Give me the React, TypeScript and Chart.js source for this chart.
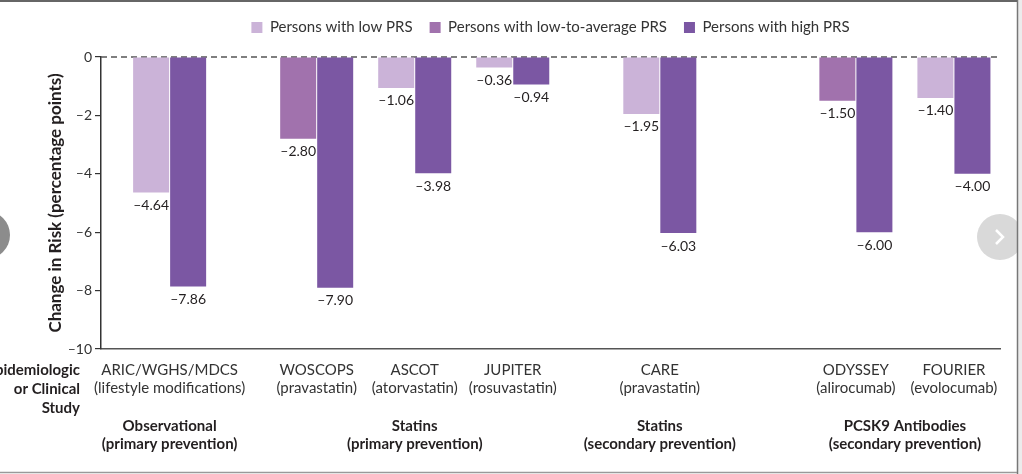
import React, { useEffect, useRef } from 'react';
import { Chart, registerables } from 'chart.js';

Chart.register(...registerables);

const studies = ['ARIC/WGHS/MDCS', 'WOSCOPS', 'ASCOT', 'JUPITER', 'CARE', 'ODYSSEY', 'FOURIER'];
const interventions = [
  '(lifestyle modifications)',
  '(pravastatin)',
  '(atorvastatin)',
  '(rosuvastatin)',
  '(pravastatin)',
  '(alirocumab)',
  '(evolocumab)',
];
const studyPositions = [0, 1.5, 2.5, 3.5, 5, 7, 8];
const lowPRS: (number | null)[] = [-4.64, null, -1.06, -0.36, -1.95, null, -1.4];
const lowToAveragePRS: (number | null)[] = [null, -2.8, null, null, null, -1.5, null];
const highPRS: (number | null)[] = [-7.86, -7.9, -3.98, -0.94, -6.03, -6.0, -4.0];
const groupLabels = [
  ['Observational', '(primary prevention)'],
  ['Statins', '(primary prevention)'],
  ['Statins', '(secondary prevention)'],
  ['PCSK9 Antibodies', '(secondary prevention)'],
];
const groupPositions = [0, 2.5, 5, 7.5];
const sideTitle = ['Epidemiologic', 'or Clinical', 'Study'];

const FONT = 'Lato';
const dash = (v: number) => (v === 0 ? '0' : '\u2013' + Math.abs(v).toString());
const fmt = (v: number) => (v < 0 ? '\u2013' : '') + Math.abs(v).toFixed(2);

export default function App() {
  const ref = useRef<HTMLCanvasElement>(null);

  useEffect(() => {
    if (!ref.current) return;
    Chart.defaults.font.family = FONT;
    const mk = (arr: (number | null)[]) => studyPositions.map((x, i) => ({ x, y: arr[i] }));

    const zeroLine = {
      id: 'zeroLine',
      beforeDatasetsDraw(chart: any) {
        const { ctx, chartArea, scales } = chart;
        const y = scales.y.getPixelForValue(0);
        ctx.save();
        ctx.strokeStyle = '#555';
        ctx.lineWidth = 1.5;
        ctx.setLineDash([6, 4]);
        ctx.beginPath();
        ctx.moveTo(chartArea.left, y);
        ctx.lineTo(chartArea.right, y);
        ctx.stroke();
        ctx.restore();
      },
    };

    const valueLabels = {
      id: 'valueLabels',
      afterDatasetsDraw(chart: any) {
        const { ctx } = chart;
        ctx.save();
        ctx.font = `14px ${FONT}`;
        ctx.fillStyle = '#231f20';
        ctx.textAlign = 'center';
        ctx.textBaseline = 'top';
        chart.data.datasets.forEach((ds: any, di: number) => {
          const meta = chart.getDatasetMeta(di);
          meta.data.forEach((el: any, i: number) => {
            const v = ds.data[i].y;
            if (v === null || v === undefined) return;
            ctx.fillText(fmt(v), el.x, el.y + 6);
          });
        });
        ctx.restore();
      },
    };

    const decor = {
      id: 'decor',
      afterDraw(chart: any) {
        const { ctx } = chart;
        ctx.save();
        ctx.fillStyle = '#8c8c8c';
        ctx.beginPath();
        ctx.arc(-14, 235, 24, 0, Math.PI * 2);
        ctx.fill();
        ctx.fillStyle = '#d9d9d9';
        ctx.beginPath();
        ctx.arc(1000, 237, 23, 0, Math.PI * 2);
        ctx.fill();
        ctx.strokeStyle = '#ffffff';
        ctx.lineWidth = 2.5;
        ctx.beginPath();
        ctx.moveTo(996, 230);
        ctx.lineTo(1003, 237);
        ctx.lineTo(996, 244);
        ctx.stroke();
        ctx.fillStyle = '#ececec';
        ctx.fillRect(1018, 0, 4, 474);
        ctx.strokeStyle = '#777';
        ctx.lineWidth = 1.5;
        ctx.beginPath();
        ctx.moveTo(1017.5, 0);
        ctx.lineTo(1017.5, 474);
        ctx.stroke();
        ctx.strokeStyle = '#666';
        ctx.lineWidth = 2;
        ctx.beginPath();
        ctx.moveTo(0, 1);
        ctx.lineTo(1017, 1);
        ctx.stroke();
        ctx.strokeStyle = '#999';
        ctx.lineWidth = 1.5;
        ctx.beginPath();
        ctx.moveTo(0, 472.5);
        ctx.lineTo(1017, 472.5);
        ctx.stroke();
        ctx.font = `bold 15px ${FONT}`;
        ctx.fillStyle = '#231f20';
        ctx.textAlign = 'right';
        ctx.textBaseline = 'middle';
        sideTitle.forEach((t, i) => ctx.fillText(t, 80, 370 + i * 19));
        ctx.restore();
      },
    };

    const chart = new Chart(ref.current, {
      type: 'bar',
      data: {
        datasets: [
          { label: 'Persons with low PRS', data: mk(lowPRS) as any, backgroundColor: '#CBB3D8', borderWidth: 0, skipNull: true } as any,
          { label: 'Persons with low-to-average PRS', data: mk(lowToAveragePRS) as any, backgroundColor: '#A172AD', borderWidth: 0, skipNull: true } as any,
          { label: 'Persons with high PRS', data: mk(highPRS) as any, backgroundColor: '#7B57A3', borderWidth: 0, skipNull: true } as any,
        ],
      },
      options: {
        animation: false,
        responsive: true,
        maintainAspectRatio: false,
        categoryPercentage: 0.755,
        barPercentage: 0.973,
        layout: { padding: { top: 3, right: 22, bottom: 21, left: 0 } },
        plugins: {
          legend: {
            position: 'top',
            fullSize: false,
            labels: {
              boxWidth: 11,
              boxHeight: 11,
              padding: 17,
              color: '#333',
              font: { family: FONT, size: 15 },
            },
          },
          title: {
            display: true,
            text: '',
            weight: 500,
            font: { size: 10 },
            padding: { top: 0, bottom: 0 },
          } as any,
          tooltip: { enabled: false },
        },
        scales: {
          x: {
            type: 'linear',
            min: -0.7,
            max: 8.47,
            offset: false,
            afterBuildTicks: (s: any) => {
              s.ticks = studyPositions.map((v) => ({ value: v }));
            },
            afterFit: (s: any) => {
              s.height = 48;
            },
            ticks: {
              autoSkip: false,
              maxRotation: 0,
              minRotation: 0,
              padding: 12,
              color: '#333',
              font: { family: FONT, size: 15, lineHeight: 1.2 },
              callback: (_v: any, i: number) => [studies[i], interventions[i]],
            },
            grid: { display: true, drawOnChartArea: false, drawTicks: false, offset: false },
            border: { display: true, color: '#555', width: 1.5 },
          } as any,
          x2: {
            type: 'linear',
            position: 'bottom',
            min: -0.7,
            max: 8.47,
            offset: false,
            afterBuildTicks: (s: any) => {
              s.ticks = groupPositions.map((v) => ({ value: v }));
            },
            afterFit: (s: any) => {
              s.height = 56;
            },
            ticks: {
              autoSkip: false,
              maxRotation: 0,
              minRotation: 0,
              padding: 20,
              color: '#231f20',
              font: { family: FONT, size: 15, weight: 'bold', lineHeight: 1.2 },
              callback: (_v: any, i: number) => groupLabels[i],
            },
            grid: { display: false, drawTicks: false },
            border: { display: false },
          } as any,
          y: {
            min: -10,
            max: 0,
            afterFit: (s: any) => {
              s.width = 101;
            },
            ticks: {
              stepSize: 2,
              padding: 3,
              color: '#333',
              font: { family: FONT, size: 14 },
              callback: (v: any) => dash(Number(v)),
            },
            grid: { drawOnChartArea: false, drawTicks: true, tickLength: 6, color: '#333', lineWidth: 1.2 },
            border: { display: true, color: '#333', width: 1.5 },
            title: {
              display: true,
              text: 'Change in Risk (percentage points)',
              color: '#231f20',
              font: { family: FONT, size: 17, weight: 'bold', lineHeight: 1.2 },
              padding: { top: 45, bottom: 0 },
            },
          } as any,
        },
      } as any,
      plugins: [zeroLine, valueLabels, decor],
    });

    return () => chart.destroy();
  }, []);

  return (
    <div style={{ position: 'absolute', left: 0, top: 0, width: 1022, height: 474, background: '#fff' }}>
      <canvas ref={ref} />
    </div>
  );
}
